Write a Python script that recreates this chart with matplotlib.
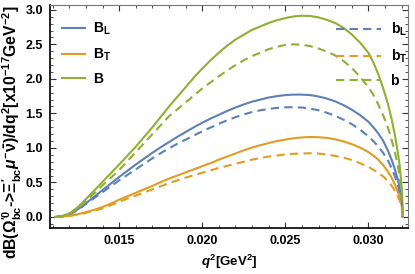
import numpy as np
import matplotlib
matplotlib.use("Agg")
import matplotlib.pyplot as plt
from matplotlib.ticker import MultipleLocator, FormatStrFormatter
from matplotlib.lines import Line2D

plt.rcParams['font.family'] = ['Liberation Sans', 'DejaVu Sans']
plt.rcParams['font.weight'] = 'bold'
plt.rcParams['mathtext.fontset'] = 'custom'
plt.rcParams['mathtext.rm'] = 'Liberation Sans:bold'
plt.rcParams['mathtext.bf'] = 'Liberation Sans:bold'
plt.rcParams['mathtext.it'] = 'Liberation Sans:bold:italic'

# q^2 grid (GeV^2)
q2 = [0.01116, 0.0115, 0.0120, 0.0125, 0.0130, 0.0135, 0.0140, 0.0145, 0.0150, 0.0155,
      0.0160, 0.0165, 0.0170, 0.0175, 0.0180, 0.0185, 0.0190, 0.0195, 0.0200, 0.0205,
      0.0210, 0.0215, 0.0220, 0.0225, 0.0230, 0.0235, 0.0240, 0.0245, 0.0250, 0.0255,
      0.0260, 0.0265, 0.0270, 0.0275, 0.0280, 0.0285, 0.0290, 0.0295, 0.0300, 0.0303,
      0.0306, 0.0309, 0.0312, 0.0314, 0.0316, 0.0318, 0.0319, 0.0320, 0.03204, 0.03207]

# solid curves
B_L = [0, 0.006, 0.04, 0.11, 0.20, 0.295, 0.39, 0.485, 0.58, 0.67,
       0.76, 0.845, 0.93, 1.01, 1.085, 1.16, 1.23, 1.30, 1.365, 1.425,
       1.48, 1.535, 1.585, 1.63, 1.67, 1.70, 1.73, 1.75, 1.765, 1.772,
       1.772, 1.765, 1.745, 1.715, 1.675, 1.62, 1.555, 1.475, 1.38, 1.30,
       1.21, 1.10, 0.95, 0.83, 0.69, 0.52, 0.41, 0.26, 0.17, 0]
B_T = [0, 0.002, 0.018, 0.04, 0.07, 0.105, 0.145, 0.195, 0.25, 0.30,
       0.35, 0.40, 0.45, 0.505, 0.555, 0.60, 0.645, 0.69, 0.735, 0.78,
       0.83, 0.875, 0.92, 0.965, 1.005, 1.04, 1.07, 1.10, 1.12, 1.14,
       1.152, 1.158, 1.155, 1.145, 1.125, 1.095, 1.055, 1.005, 0.94, 0.89,
       0.83, 0.75, 0.65, 0.57, 0.47, 0.35, 0.28, 0.18, 0.11, 0]
B = [0, 0.008, 0.05, 0.14, 0.26, 0.385, 0.51, 0.635, 0.76, 0.89,
     1.02, 1.16, 1.30, 1.45, 1.60, 1.74, 1.88, 2.02, 2.15, 2.27,
     2.38, 2.48, 2.57, 2.64, 2.71, 2.76, 2.81, 2.85, 2.88, 2.905,
     2.915, 2.91, 2.89, 2.855, 2.81, 2.74, 2.645, 2.525, 2.38, 2.24,
     2.07, 1.86, 1.62, 1.42, 1.19, 0.90, 0.72, 0.46, 0.30, 0]

# dashed curves
b_L = [0, 0.005, 0.035, 0.10, 0.19, 0.275, 0.36, 0.445, 0.53, 0.61,
       0.69, 0.77, 0.85, 0.925, 0.995, 1.06, 1.12, 1.18, 1.24, 1.295,
       1.35, 1.40, 1.445, 1.485, 1.52, 1.545, 1.565, 1.58, 1.588, 1.59,
       1.585, 1.57, 1.545, 1.51, 1.465, 1.41, 1.345, 1.265, 1.17, 1.10,
       1.02, 0.925, 0.81, 0.71, 0.59, 0.44, 0.35, 0.22, 0.14, 0]
b_T = [0, 0.002, 0.015, 0.035, 0.06, 0.09, 0.125, 0.17, 0.22, 0.265,
       0.31, 0.355, 0.40, 0.445, 0.49, 0.53, 0.57, 0.605, 0.64, 0.675,
       0.71, 0.74, 0.77, 0.80, 0.83, 0.855, 0.875, 0.89, 0.905, 0.915,
       0.92, 0.922, 0.918, 0.905, 0.885, 0.86, 0.825, 0.78, 0.725, 0.685,
       0.64, 0.585, 0.515, 0.455, 0.38, 0.285, 0.23, 0.145, 0.09, 0]
b = [0, 0.007, 0.045, 0.125, 0.23, 0.345, 0.46, 0.57, 0.68, 0.81,
     0.94, 1.07, 1.20, 1.33, 1.46, 1.56, 1.66, 1.76, 1.86, 1.95,
     2.04, 2.12, 2.20, 2.27, 2.33, 2.38, 2.43, 2.465, 2.49, 2.50,
     2.495, 2.475, 2.44, 2.395, 2.34, 2.26, 2.16, 2.03, 1.88, 1.77,
     1.63, 1.47, 1.28, 1.12, 0.94, 0.71, 0.57, 0.36, 0.23, 0]

c_blue = '#5E81B5'
c_orange = '#E19C24'
c_green = '#8FB032'
dash = (4, 2.5)

fig = plt.figure(figsize=(4.15, 2.74), dpi=100)
ax = fig.add_axes([50/415, 46/274, 358/415, 223/274])

ax.plot(q2, B_L, color=c_blue, lw=1.5)
ax.plot(q2, B_T, color=c_orange, lw=1.5)
ax.plot(q2, B, color=c_green, lw=1.5)
ax.plot(q2, b_L, color=c_blue, lw=1.5, dashes=dash)
ax.plot(q2, b_T, color=c_orange, lw=1.5, dashes=dash)
ax.plot(q2, b, color=c_green, lw=1.5, dashes=dash)

ax.set_xlim(0.01083, 0.03239)
ax.set_ylim(-0.16, 3.07)

ax.xaxis.set_major_locator(MultipleLocator(0.005))
ax.xaxis.set_minor_locator(MultipleLocator(0.001))
ax.yaxis.set_major_locator(MultipleLocator(0.5))
ax.yaxis.set_minor_locator(MultipleLocator(0.1))
ax.xaxis.set_major_formatter(FormatStrFormatter('%.3f'))
ax.yaxis.set_major_formatter(FormatStrFormatter('%.1f'))
ax.tick_params(which='both', direction='in', top=True, right=True, colors='#333333',
               labelcolor='black', labelsize=9)
ax.tick_params(which='major', length=4, width=0.8, pad=5)
ax.tick_params(which='minor', length=2, width=0.6)
for s in ['left', 'bottom']:
    ax.spines[s].set_linewidth(1.2)
for s in ['top', 'right']:
    ax.spines[s].set_color('#777777')
    ax.spines[s].set_linewidth(0.8)

ax.set_xlabel(r'$q^{2}$[GeV$^{2}$]', fontsize=9.5, fontweight='bold', labelpad=4)
ax.set_ylabel(r'dB($\Omega^{\prime 0}_{\mathrm{bc}}$->$\Xi^{\prime}_{\mathrm{bc}}\mu^{-}\bar{\mathrm{\nu}}$)/dq$^{2}$[x10$^{-17}$GeV$^{-2}$]',
              fontsize=11.3, fontweight='bold')
ax.yaxis.set_label_coords(-0.072, 0.428)

solid = [Line2D([], [], color=c, lw=1.5) for c in (c_blue, c_orange, c_green)]
dashed = [Line2D([], [], color=c, lw=1.5, dashes=dash) for c in (c_blue, c_orange, c_green)]
leg1 = ax.legend(solid, [r'B$_{\mathrm{L}}$', r'B$_{\mathrm{T}}$', 'B'], loc='upper left',
                 bbox_to_anchor=(12/358, 1 - 16/223), frameon=False, fontsize=10,
                 handlelength=1.66, handletextpad=0.6, borderpad=0.0, borderaxespad=0.0,
                 labelspacing=0.66)
ax.add_artist(leg1)
ax.legend(dashed, [r'b$_{\mathrm{L}}$', r'b$_{\mathrm{T}}$', 'b'], loc='upper right',
          bbox_to_anchor=(1.0 - 1/358, 1 - 16/223), frameon=False, fontsize=10,
          handlelength=3.2, handletextpad=0.7, borderpad=0.0, borderaxespad=0.0,
          labelspacing=0.66)

fig.savefig('out.png', dpi=100)
